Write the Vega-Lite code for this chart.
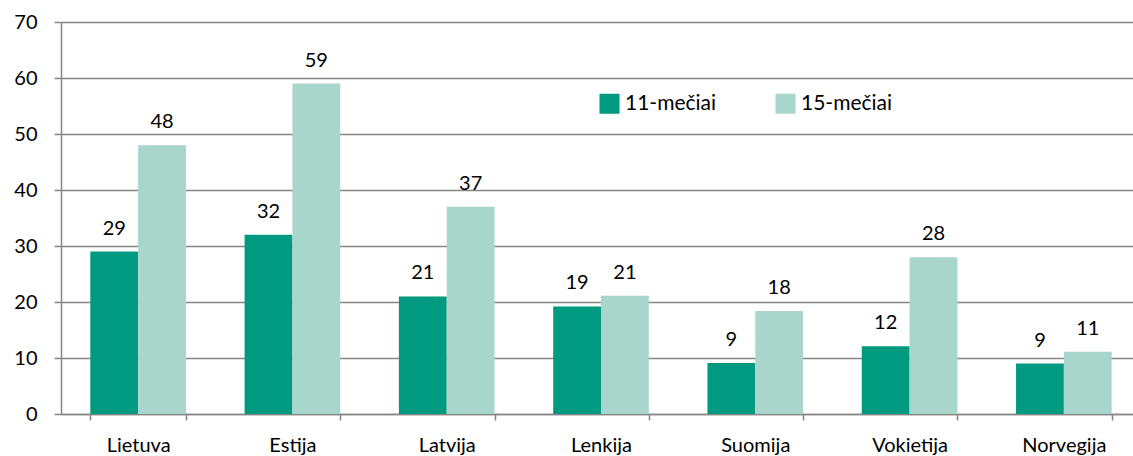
{
  "$schema": "https://vega.github.io/schema/vega-lite/v6.json",
  "autosize": {"type": "none"},
  "padding": {"left": 61, "top": 22, "right": 0, "bottom": 42},
  "width": 1080,
  "height": 392,
  "background": "white",
  "config": {
    "view": {"stroke": null},
    "font": "Lato",
    "axis": {"labelFont": "Lato", "labelFontSize": 20, "labelColor": "#000000"}
  },
  "data": {
    "values": [
      {"country": "Lietuva", "age": "11-mečiai", "value": 29},
      {"country": "Lietuva", "age": "15-mečiai", "value": 48},
      {"country": "Estija", "age": "11-mečiai", "value": 32},
      {"country": "Estija", "age": "15-mečiai", "value": 59},
      {"country": "Latvija", "age": "11-mečiai", "value": 21},
      {"country": "Latvija", "age": "15-mečiai", "value": 37},
      {"country": "Lenkija", "age": "11-mečiai", "value": 19.2},
      {"country": "Lenkija", "age": "15-mečiai", "value": 21.1},
      {"country": "Suomija", "age": "11-mečiai", "value": 9.1},
      {"country": "Suomija", "age": "15-mečiai", "value": 18.4},
      {"country": "Vokietija", "age": "11-mečiai", "value": 12.1},
      {"country": "Vokietija", "age": "15-mečiai", "value": 28},
      {"country": "Norvegija", "age": "11-mečiai", "value": 9},
      {"country": "Norvegija", "age": "15-mečiai", "value": 11.1}
    ]
  },
  "encoding": {
    "x": {
      "field": "country", "type": "nominal", "sort": null,
      "scale": {"paddingInner": 0.38, "paddingOuter": 0.19},
      "axis": {
        "title": null, "labelAngle": 0, "labelPadding": 15,
        "domainColor": "#868686", "domainWidth": 1.5,
        "tickColor": "#868686", "tickWidth": 1.5, "tickSize": 6, "tickBand": "extent",
        "grid": false
      }
    },
    "xOffset": {"field": "age", "type": "nominal", "sort": ["11-mečiai", "15-mečiai"]},
    "y": {
      "field": "value", "type": "quantitative",
      "scale": {"domain": [0, 70]},
      "axis": {
        "title": null, "values": [0, 10, 20, 30, 40, 50, 60, 70],
        "domainColor": "#868686", "domainWidth": 1.5,
        "tickColor": "#868686", "tickWidth": 1.5, "tickSize": 7,
        "labelPadding": 17,
        "grid": true, "gridColor": "#868686", "gridWidth": 1.5
      }
    }
  },
  "layer": [
    {
      "mark": {"type": "bar"},
      "encoding": {
        "color": {
          "field": "age", "type": "nominal",
          "sort": ["11-mečiai", "15-mečiai"],
          "scale": {"domain": ["11-mečiai", "15-mečiai"], "range": ["#009A80", "#A9D6CB"]},
          "legend": {
            "title": null, "orient": "none", "direction": "horizontal",
            "legendX": 538, "legendY": 71,
            "symbolType": "square", "symbolSize": 400, "symbolStrokeWidth": 0,
            "labelFont": "Lato", "labelFontSize": 21, "labelColor": "#000000",
            "columnPadding": 58, "labelOffset": 5
          }
        }
      }
    },
    {
      "mark": {"type": "text", "baseline": "alphabetic", "dy": -17, "fontSize": 20, "font": "Lato", "color": "#000000"},
      "encoding": {
        "text": {"field": "value", "type": "quantitative", "format": ".0f"}
      }
    }
  ]
}
